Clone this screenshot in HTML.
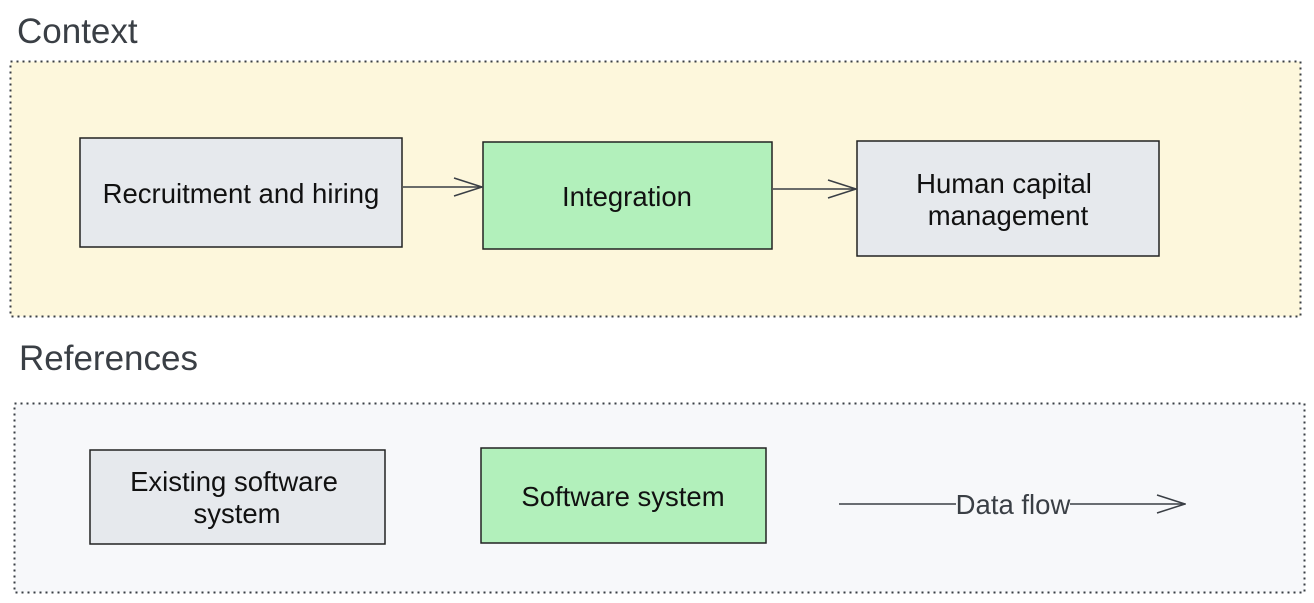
<!DOCTYPE html>
<html><head><meta charset="utf-8"><style>
html,body{margin:0;padding:0;background:#fff;}
svg{display:block;font-family:"Liberation Sans",Arial,sans-serif;}
</style></head><body>
<svg width="1314" height="603" viewBox="0 0 1314 603" xmlns="http://www.w3.org/2000/svg">
<defs>
<marker id="a" markerWidth="30" markerHeight="20" refX="29" refY="10" orient="auto" markerUnits="userSpaceOnUse">
<path d="M1,1 L29,10 L1,19" fill="none" stroke="#3a3f45" stroke-width="1.5"/>
</marker>
</defs>
<text x="17" y="43" font-size="35" fill="#3a3f45">Context</text>
<rect x="10.5" y="61.5" width="1290" height="255" fill="#fdf7dc" stroke="#3a3f45" stroke-width="2" stroke-dasharray="2,4"/>
<text x="19" y="370" font-size="35" fill="#3a3f45">References</text>
<rect x="14.5" y="403.5" width="1290" height="189" fill="#f7f8fa" stroke="#3a3f45" stroke-width="2" stroke-dasharray="2,4"/>

<rect x="80" y="138" width="322" height="109" fill="#e6e9ed" stroke="#222" stroke-width="1.5"/>
<text x="241" y="203" font-size="27.5" text-anchor="middle" fill="#111">Recruitment and hiring</text>
<rect x="483" y="142" width="289" height="107" fill="#b2f0bb" stroke="#222" stroke-width="1.5"/>
<text x="627" y="206" font-size="27.5" text-anchor="middle" fill="#111">Integration</text>
<rect x="857" y="141" width="302" height="115" fill="#e6e9ed" stroke="#222" stroke-width="1.5"/>
<text x="1004" y="193" font-size="27.5" text-anchor="middle" fill="#111">Human capital</text>
<text x="1008" y="225" font-size="27.5" text-anchor="middle" fill="#111">management</text>

<line x1="403" y1="187" x2="482" y2="187" stroke="#3a3f45" stroke-width="1.5" marker-end="url(#a)"/>
<line x1="773" y1="189" x2="856" y2="189" stroke="#3a3f45" stroke-width="1.5" marker-end="url(#a)"/>

<rect x="90" y="450" width="295" height="94" fill="#e6e9ed" stroke="#222" stroke-width="1.5"/>
<text x="234" y="491" font-size="27.5" text-anchor="middle" fill="#111">Existing software</text>
<text x="237" y="523" font-size="27.5" text-anchor="middle" fill="#111">system</text>
<rect x="481" y="448" width="285" height="95" fill="#b2f0bb" stroke="#222" stroke-width="1.5"/>
<text x="623" y="506" font-size="27.5" text-anchor="middle" fill="#111">Software system</text>

<line x1="839" y1="504" x2="956" y2="504" stroke="#3a3f45" stroke-width="1.5"/>
<line x1="1070" y1="504" x2="1185" y2="504" stroke="#3a3f45" stroke-width="1.5" marker-end="url(#a)"/>
<text x="1013" y="514" font-size="27.5" text-anchor="middle" fill="#3a3f45">Data flow</text>
</svg>
</body></html>
